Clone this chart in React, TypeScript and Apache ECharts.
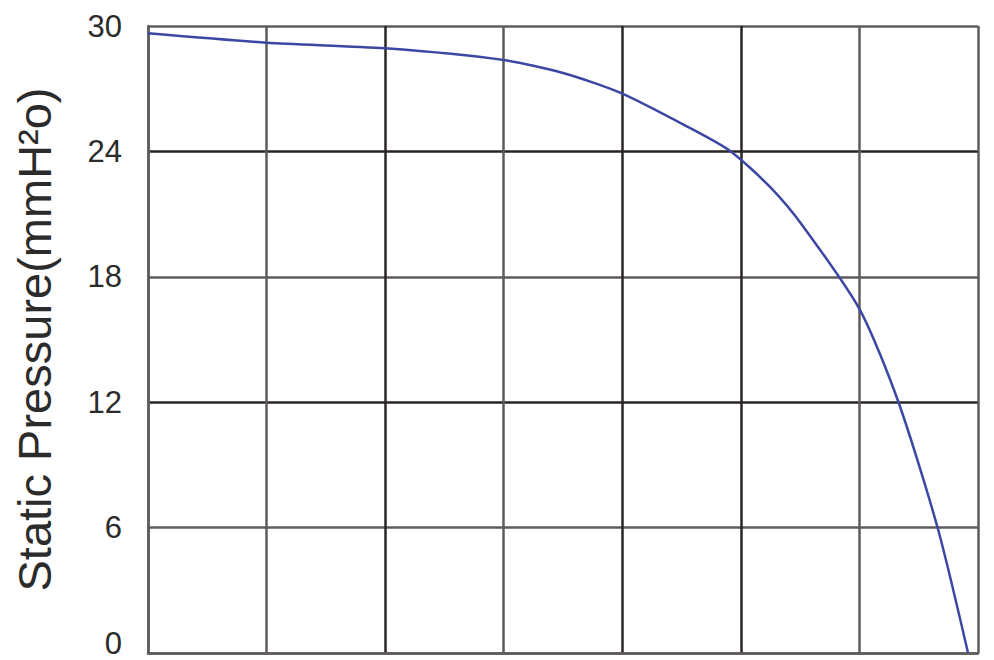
import React, { useEffect, useRef } from "react";
import * as echarts from "echarts";

const flowValues: number[] = [0, 1.0, 2.0, 3.0, 3.5, 3.981, 4.543, 4.909, 5.246, 5.527, 6.005, 6.328, 6.66, 6.916];
const pressureValues: number[] = [29.65, 29.2, 28.93, 28.37, 27.75, 26.81, 25.2, 24.02, 22.3, 20.4, 16.41, 12.02, 5.98, 0];
const yTicks: number[] = [0, 6, 12, 18, 24, 30];

const DARK = "#2a2525";
const GREY = "#5f5b5b";

export default function App() {
  const ref = useRef<HTMLDivElement>(null);
  useEffect(() => {
    if (!ref.current) return;
    const chart = echarts.init(ref.current, undefined, { renderer: "svg" });
    const data = flowValues.map((x, i) => [x, pressureValues[i]]);
    const labelFont = {
      fontFamily: "Liberation Sans, Arial, sans-serif",
      fontSize: 31,
      color: "#2b2b2b",
    };
    chart.setOption({
      animation: false,
      backgroundColor: "#ffffff",
      grid: {
        left: 148,
        top: 26,
        right: 16,
        bottom: 7,
        containLabel: false,
        outerBoundsMode: "none",
      },
      xAxis: {
        type: "value",
        min: 0,
        max: 7,
        interval: 1,
        axisLabel: { show: false },
        axisTick: { show: false },
        axisLine: { show: true, lineStyle: { color: GREY, width: 2.5 } },
        splitLine: {
          show: true,
          lineStyle: {
            color: [GREY, GREY, DARK, GREY, DARK, DARK, GREY, GREY],
            width: 2.5,
          },
        },
      },
      yAxis: {
        type: "value",
        min: yTicks[0],
        max: yTicks[yTicks.length - 1],
        interval: 6,
        name: "Static Pressure(mmH²o)",
        nameLocation: "middle",
        nameGap: 90,
        nameRotate: 90,
        nameTextStyle: {
          fontFamily: "Liberation Sans, Arial, sans-serif",
          fontSize: 47,
          color: "#2b2b2b",
        },
        axisLabel: {
          ...labelFont,
          margin: 26,
          formatter: (v: number) => (v === yTicks[0] ? `{z|${v}}` : `{n|${v}}`),
          rich: {
            n: { ...labelFont },
            z: { ...labelFont, padding: [0, 0, 19, 0] },
          },
        },
        axisTick: { show: false },
        axisLine: { show: true, lineStyle: { color: GREY, width: 2.5 } },
        splitLine: {
          show: true,
          lineStyle: {
            color: [GREY, GREY, DARK, GREY, DARK, GREY],
            width: 2.5,
          },
        },
      },
      series: [
        {
          type: "line",
          data,
          smooth: 0.25,
          showSymbol: false,
          lineStyle: { color: "#3c47a3", width: 2.5 },
          z: 5,
        },
      ],
    });
    return () => chart.dispose();
  }, []);
  return (
    <div
      ref={ref}
      style={{ position: "fixed", left: 0, top: 0, width: 994, height: 660, background: "#fff" }}
    />
  );
}
